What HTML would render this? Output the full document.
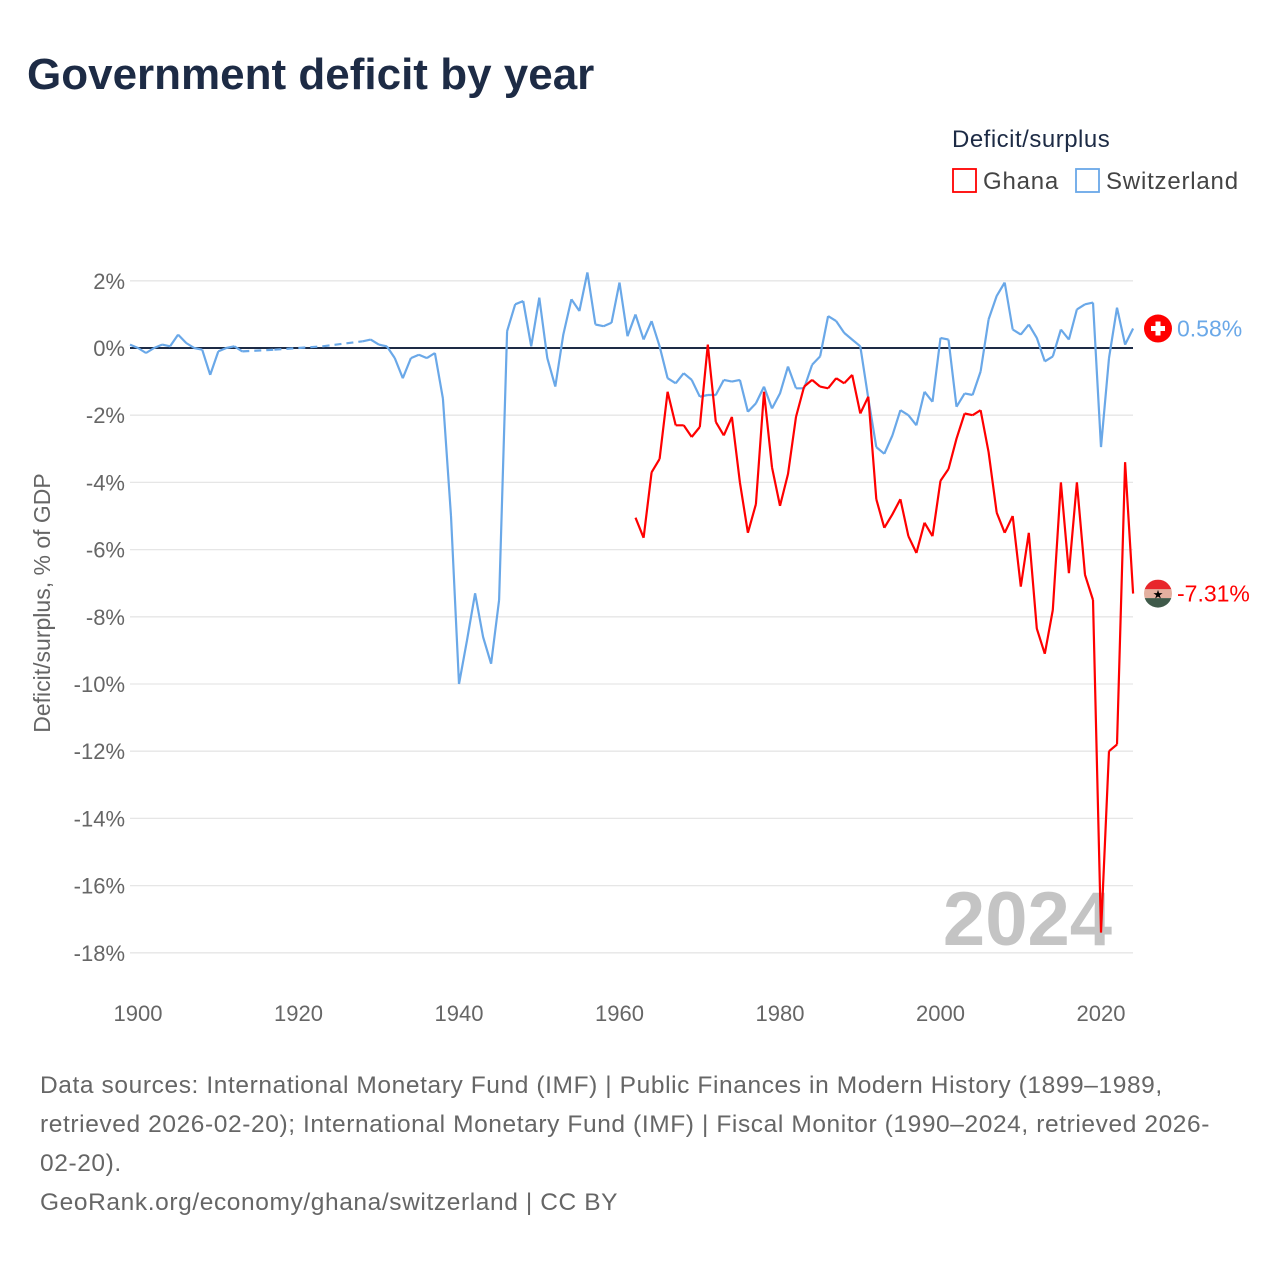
<!DOCTYPE html>
<html><head><meta charset="utf-8">
<style>
body{margin:0;background:#fff;font-family:"Liberation Sans","DejaVu Sans",sans-serif;}
#wrap{position:relative;width:1280px;height:1280px;overflow:hidden;background:#fff}
h1{position:absolute;left:27px;top:50px;margin:0;font-size:44px;font-weight:bold;color:#1d2b45;letter-spacing:0px}
.foot{position:absolute;left:40px;top:1066px;font-size:24.5px;line-height:39px;color:#666;width:1230px;white-space:nowrap;letter-spacing:0.6px}
</style></head><body>
<div id="wrap">
<h1>Government deficit by year</h1>
<svg id="chart" width="1280" height="1280" style="position:absolute;left:0;top:0"></svg>
<div class="foot">Data sources: International Monetary Fund (IMF) | Public Finances in Modern History (1899–1989,<br>retrieved 2026-02-20); International Monetary Fund (IMF) | Fiscal Monitor (1990–2024, retrieved 2026-<br>02-20).<br>GeoRank.org/economy/ghana/switzerland | CC BY</div>
</div>
<script>
const years = [];
for (let y = 1899; y <= 2024; y++) years.push(y);
const switzerlandValues = [
0.1,0.0,-0.15,0.0,0.1,0.05,0.4,0.15,0.0,-0.05,-0.8,-0.1,0.0,0.05,-0.1,
null,null,null,-0.05,null,null,null,null,null,0.05,null,null,null,null,0.2,
0.25,0.1,0.05,-0.3,-0.9,-0.3,-0.2,-0.3,-0.15,-1.5,-5.0,-10.0,-8.7,-7.3,-8.6,-9.4,-7.5,
0.5,1.3,1.4,0.05,1.5,-0.3,-1.15,0.4,1.45,1.1,2.25,0.7,0.65,0.75,1.95,0.35,1.0,0.25,0.8,0.05,
-0.9,-1.05,-0.75,-0.95,-1.45,-1.4,-1.4,-0.95,-1.0,-0.95,-1.9,-1.65,-1.15,-1.8,-1.35,-0.55,-1.2,-1.2,-0.5,-0.25,
0.95,0.8,0.45,0.25,0.05,-1.5,-2.95,-3.15,-2.6,-1.85,-2.0,-2.3,-1.3,-1.6,0.3,0.25,-1.75,-1.35,-1.4,-0.7,
0.85,1.55,1.95,0.55,0.4,0.7,0.3,-0.4,-0.25,0.55,0.25,1.15,1.3,1.35,-2.95,-0.3,1.2,0.1,0.58];
const ghanaValues = new Array(1962-1899).fill(null).concat([
-5.05,-5.65,-3.7,-3.3,-1.3,-2.3,-2.3,-2.65,-2.35,0.1,-2.2,-2.6,-2.05,-4.0,-5.5,-4.65,-1.3,-3.55,-4.7,-3.75,
-2.05,-1.15,-0.95,-1.15,-1.2,-0.9,-1.05,-0.8,-1.95,-1.45,-4.5,-5.35,-4.95,-4.5,-5.6,-6.1,-5.2,-5.6,-3.95,-3.6,
-2.7,-1.95,-2.0,-1.85,-3.1,-4.9,-5.5,-5.0,-7.1,-5.5,-8.35,-9.1,-7.8,-4.0,-6.7,-4.0,-6.75,-7.5,-17.4,-12.0,-11.8,-3.4,-7.31]);
const yTicks = [2,0,-2,-4,-6,-8,-10,-12,-14,-16,-18];
const xTicks = [1900,1920,1940,1960,1980,2000,2020];

const NS="http://www.w3.org/2000/svg";
const svg=document.getElementById('chart');
const X0=130,X1=1133;
function xs(y){return 138+(y-1900)*(1101-138)/120;}
function ys(v){return 348-v*33.6;}
function el(t,a,p){const e=document.createElementNS(NS,t);for(const k in a)e.setAttribute(k,a[k]);(p||svg).appendChild(e);return e;}

yTicks.forEach(t=>{
  const g=el('line',{x1:X0,x2:X1,y1:ys(t),y2:ys(t),stroke:t===0?'#1d2b45':'#e6e6e6','stroke-width':t===0?2:1.3});
  
  
  const tx=el('text',{x:125,y:ys(t)+8,'text-anchor':'end','font-size':22,fill:'#666'});
  tx.textContent=t+'%';
  
  
});
xTicks.forEach(t=>{
  const tx=el('text',{x:xs(t),y:1021,'text-anchor':'middle','font-size':22,fill:'#666'});
  tx.textContent=t;
  
  
});
const yt=el('text',{x:0,y:0,transform:'translate(50,603) rotate(-90)','text-anchor':'middle','font-size':23,fill:'#666'});
yt.textContent='Deficit/surplus, % of GDP';



const wm=el('text',{x:1112,y:945,'text-anchor':'end','font-size':76,'font-weight':'bold',fill:'#c4c4c4'});
wm.textContent='2024';



function drawSeries(vals,color,name){
  let solid='',dash='';let prev=null;
  vals.forEach((v,i)=>{
    if(v===null)return;
    const p=xs(years[i]).toFixed(1)+','+ys(v).toFixed(1);
    if(prev!==null){
      const seg='M'+xs(years[prev]).toFixed(1)+','+ys(vals[prev]).toFixed(1)+'L'+p;
      if(i-prev===1)solid+=seg;else dash+=seg;
    }
    prev=i;
  });
  const a=el('path',{d:solid,fill:'none',stroke:color,'stroke-width':2.2,'stroke-linejoin':'round'});
  
  
  if(dash){const b=el('path',{d:dash,fill:'none',stroke:color,'stroke-width':2.2,'stroke-dasharray':'7,5'});
  
  }
}
drawSeries(switzerlandValues,'#6aa8e8','switzerland');
drawSeries(ghanaValues,'#ff0000','ghana');

const sy=ys(switzerlandValues[switzerlandValues.length-1]);
const gy=ys(ghanaValues[ghanaValues.length-1]);
const sf=el('g',{});


el('circle',{cx:1158,cy:sy,r:14,fill:'#ff0000'},sf);
el('rect',{x:1151,y:sy-2.5,width:14,height:5,fill:'#fff'},sf);
el('rect',{x:1155.5,y:sy-7,width:5,height:14,fill:'#fff'},sf);
const sl=el('text',{x:1177,y:sy+8,'font-size':23,fill:'#6aa8e8'});
sl.textContent='0.58%';


const gf=el('g',{});


el('clipPath',{id:'gc'},gf);
el('circle',{cx:1158,cy:gy,r:14},document.getElementById('gc'));
el('rect',{x:1144,y:gy-14,width:28,height:10,fill:'#e8262b','clip-path':'url(#gc)'},gf);
el('rect',{x:1144,y:gy-4.5,width:28,height:9,fill:'#e3b0a0','clip-path':'url(#gc)'},gf);
el('rect',{x:1144,y:gy+4.5,width:28,height:10,fill:'#3f5a4a','clip-path':'url(#gc)'},gf);
const st=el('text',{x:1158,y:gy+5,'text-anchor':'middle','font-size':12,fill:'#000'},gf);st.textContent='★';
const gl=el('text',{x:1177,y:gy+8,'font-size':23,fill:'#ff0000'});
gl.textContent='-7.31%';



const lt=el('text',{x:952,y:147,'font-size':24,fill:'#1d2b45','letter-spacing':0.5});
lt.textContent='Deficit/surplus';


[['Ghana','#ff0000',953],['Switzerland','#6aa8e8',1076]].forEach(([n,c,x])=>{
  const g=el('g',{});
  
  
  el('rect',{x:x,y:169,width:23,height:23,fill:'#fff',stroke:c,'stroke-width':1.8},g);
  const t=el('text',{x:x+30,y:189,'font-size':24,fill:'#444','letter-spacing':0.8},g);t.textContent=n;
});
</script>
</body></html>
